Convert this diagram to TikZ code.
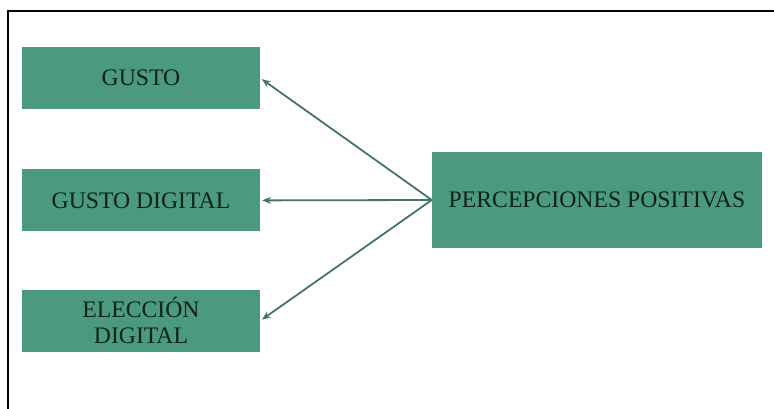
\documentclass[tikz,border=0pt]{standalone}
\usepackage{fontspec}
\setmainfont{Liberation Serif}
\usepackage{tikz}
\usetikzlibrary{arrows.meta}
\usetikzlibrary{positioning}
\definecolor{boxgreen}{RGB}{76,154,126}
\definecolor{boxtext}{RGB}{12,34,26}
\definecolor{arrowgreen}{RGB}{70,116,98}
\begin{document}
\begin{tikzpicture}[x=1pt,y=1pt,
  box/.style={fill=boxgreen,text=boxtext,minimum width=238pt,minimum height=62pt,
    align=center,inner sep=2pt,font=\fontsize{23.7}{26}\selectfont},
  link/.style={draw=arrowgreen,line width=1.8pt,shorten >=2pt,
    -{Stealth[length=9pt,width=7pt]}}]
\useasboundingbox (0,0) rectangle (774,-409);
  % frame
  \draw[line width=1.6pt] (8,-409) -- (8,-11) -- (774,-11);
  \node[box] (gusto) at (141,-78) {GUSTO};
  \node[box,below=60pt of gusto] (gustodig) {GUSTO DIGITAL};
  \node[box,below=58pt of gustodig] (eleccion) {ELECCIÓN\\DIGITAL};
  \node[box,minimum width=330pt,minimum height=96pt] (percep) at (597,-200) {PERCEPCIONES POSITIVAS};
  \draw[link](percep.west)--(gusto.east);
  \draw[link](percep.west)--(gustodig.east);
  \draw[link](percep.west)--(eleccion.east);
\end{tikzpicture}
\end{document}
